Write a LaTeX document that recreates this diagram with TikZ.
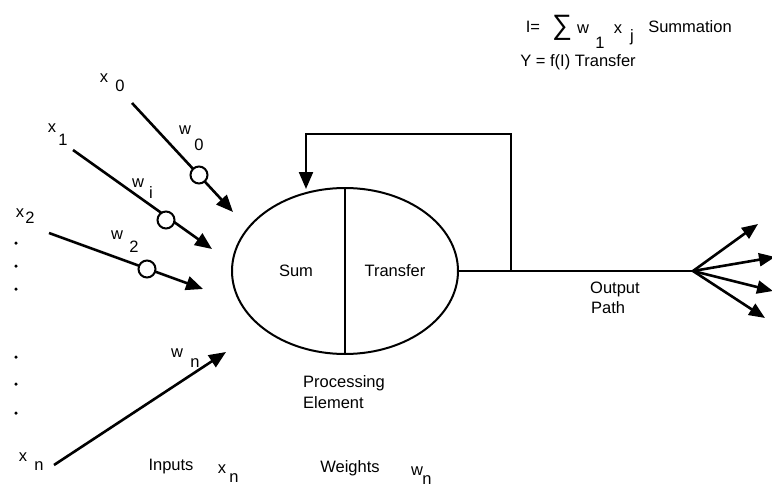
\documentclass[tikz,border=0pt]{standalone}
\usepackage{fontspec}
\setmainfont{Liberation Sans}
\usetikzlibrary{arrows.meta,shapes.geometric}
\begin{document}
\begin{tikzpicture}[x=1pt,y=-1pt,
  lbl/.style={inner sep=0pt,font=\fontsize{16.5}{19}\selectfont},
  inarrow/.style={line width=2.6pt,-{Triangle[length=17pt,width=14pt]}},
  wcircle/.style={circle,draw,line width=2pt,fill=white,minimum width=17pt,inner sep=0pt},
  plain/.style={line width=2.2pt},
  dotn/.style={circle,fill=black,inner sep=0pt,minimum size=3.5pt}]
\useasboundingbox (0,0) rectangle (772,487);
% processing element
\node[ellipse,draw,line width=2pt,minimum width=226pt,minimum height=166pt,inner sep=0pt] (pe) at (345,271) {};
\draw[line width=2pt] (pe.north) -- (pe.south);
\node[lbl] (sum) at (296,271) {Sum};
\node[lbl] (tr) at (395,271) {Transfer};
% inputs
\coordinate (s0) at (132,103); \coordinate (t0) at (233,212);
\coordinate (s1) at (73,150);  \coordinate (t1) at (212,249);
\coordinate (s2) at (49,233);  \coordinate (t2) at (203,289);
\coordinate (sn) at (54,465);  \coordinate (tn) at (226,352);
\draw[inarrow] (s0) -- (t0);
\draw[inarrow] (s1) -- (t1);
\draw[inarrow] (s2) -- (t2);
\draw[inarrow] (sn) -- (tn);
\node[wcircle] (c0) at (199,175) {};
\node[wcircle] (c1) at (166,220) {};
\node[wcircle] (c2) at (147,269) {};
% input labels
\node[lbl] (x0) at (104,78) {x}; \node[lbl] (x0s) at (120,86) {0};
\node[lbl] (w0) at (185,130) {w}; \node[lbl] (w0s) at (199,145) {0};
\node[lbl] (x1) at (52,128) {x}; \node[lbl] (x1s) at (63,140) {1};
\node[lbl] (wi) at (138,183) {w}; \node[lbl] (wis) at (151,193) {i};
\node[lbl] (x2) at (20,213) {x}; \node[lbl] (x2s) at (30,218) {2};
\node[lbl] (w2) at (117,235) {w}; \node[lbl] (w2s) at (134,247) {2};
\node[lbl] (wn) at (177,353) {w}; \node[lbl] (wns) at (195,363) {n};
\node[lbl] (xn) at (23,457) {x}; \node[lbl] (xns) at (39,466) {n};
\node[dotn] (d1) at (16,243) {};
\node[dotn] (d2) at (16,266) {};
\node[dotn] (d3) at (16,289) {};
\node[dotn] (d4) at (16,357) {};
\node[dotn] (d5) at (16,384) {};
\node[dotn] (d6) at (16,413) {};
% feedback and output
\coordinate (split) at (511,271);
\coordinate (fbtop) at (511,134);
\coordinate (fbend) at (306,189);
\draw[plain] (pe.east) -- (split);
\draw[plain,-{Triangle[length=17pt,width=14pt]}] (split) -- (fbtop) -| (fbend);
\coordinate (fan) at (693,271);
\draw[plain] (split) -- (fan);
\coordinate (o1) at (758,224);
\coordinate (o2) at (775,257);
\coordinate (o3) at (773,291);
\coordinate (o4) at (765,318);
\foreach \o in {o1,o2,o3,o4}
  \draw[line width=2.6pt,-{Triangle[length=16pt,width=13pt]}] (fan) -- (\o);
\node[lbl,anchor=west] (out1) at (590,289) {Output};
\node[lbl,anchor=west] (out2) at (591,308) {Path};
\node[lbl,anchor=west] (pr1) at (303,383) {Processing};
\node[lbl,anchor=west] (pr2) at (303,403) {Element};
% bottom legend
\node[lbl] (inp) at (171,467) {Inputs};
\node[lbl] (lx) at (222,469) {x}; \node[lbl] (lxs) at (234,478) {n};
\node[lbl] (wts) at (350,468) {Weights};
\node[lbl] (lw) at (417,471) {w}; \node[lbl] (lws) at (427,480) {n};
% formulas
\node[lbl] (feq) at (533,27) {I=};
\node[inner sep=0pt,font=\fontsize{28}{30}\selectfont] (fsig) at (562,28) {∑};
\node[lbl] (fw) at (583,29) {w}; \node[lbl] (fws) at (600,43) {1};
\node[lbl] (fx) at (618,29) {x}; \node[lbl] (fxs) at (632,37) {j};
\node[lbl] (fsum) at (690,27) {Summation};
\node[lbl] (ftr) at (578,62) {Y = f(I) Transfer};
\end{tikzpicture}
\end{document}
